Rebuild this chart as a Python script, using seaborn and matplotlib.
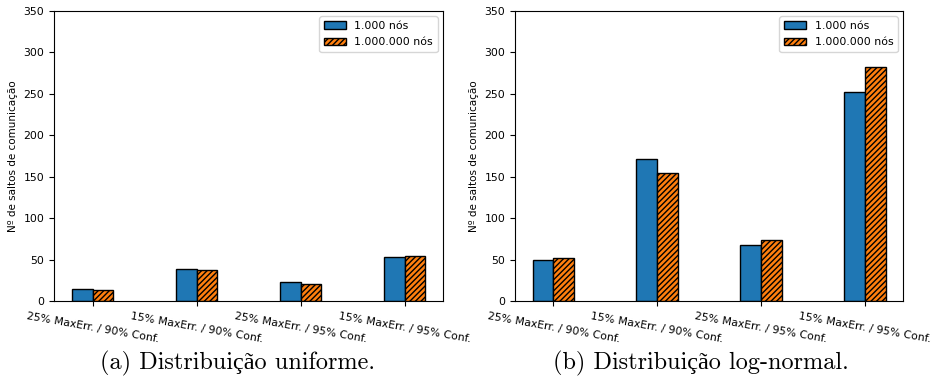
import matplotlib
matplotlib.use("Agg")
import matplotlib.pyplot as plt
from matplotlib.patches import Patch
import pandas as pd
import seaborn as sns

# configurações testadas
configs = ["25% MaxErr. / 90% Conf.", "15% MaxErr. / 90% Conf.",
           "25% MaxErr. / 95% Conf.", "15% MaxErr. / 95% Conf."]
series = ["1.000 nós", "1.000.000 nós"]

# nº de saltos - distribuição uniforme
uniform_1k = [15, 39, 23, 53]
uniform_1m = [13, 38, 20, 54]

# nº de saltos - distribuição log-normal
lognormal_1k = [49, 171, 68, 252]
lognormal_1m = [52, 155, 74, 282]

captions = ["(a) Distribuição uniforme.", "(b) Distribuição log-normal."]
colors = ["#1f77b4", "#ff7f0e"]
HATCH = "//////"


def make_df(a, b):
    return pd.DataFrame({
        "config": configs * 2,
        "serie": [series[0]] * 4 + [series[1]] * 4,
        "saltos": a + b,
    })


def draw(ax, df):
    sns.barplot(data=df, x="config", y="saltos", hue="serie",
                hue_order=series, order=configs, palette=colors,
                saturation=1, width=0.4, edgecolor="black", linewidth=1,
                legend=False, ax=ax)
    # hachura na segunda série
    for bar in ax.containers[1]:
        bar.set_hatch(HATCH)
    ax.set_xlim(-0.37, 3.37)
    ax.set_ylim(0, 350)
    ax.set_yticks(range(0, 351, 50))
    ax.set_xlabel("")
    ax.set_ylabel("Nº de saltos de comunicação", fontsize=7.5)
    ax.tick_params(axis="both", labelsize=7.8)
    plt.setp(ax.get_xticklabels(), rotation=-10, ha="center")
    handles = [Patch(facecolor=colors[0], edgecolor="black", label=series[0]),
               Patch(facecolor=colors[1], edgecolor="black", hatch=HATCH,
                     label=series[1])]
    ax.legend(handles=handles, loc="upper right", fontsize=7.9,
              labelspacing=0.6)


def main():
    plt.rcParams["hatch.linewidth"] = 1.0
    fig = plt.figure(figsize=(9.33, 3.9), dpi=100)
    ax1 = fig.add_axes([0.0579, 0.228, 0.417, 0.744])
    ax2 = fig.add_axes([0.552, 0.228, 0.416, 0.744])

    draw(ax1, make_df(uniform_1k, uniform_1m))
    draw(ax2, make_df(lognormal_1k, lognormal_1m))

    fig.text(0.255, 0.067, captions[0], ha="center", va="center",
             fontsize=17.5, family=["cmr10", "Liberation Serif"])
    fig.text(0.751, 0.067, captions[1], ha="center", va="center",
             fontsize=17.5, family=["cmr10", "Liberation Serif"])

    fig.savefig("out.png", dpi=100)


if __name__ == "__main__":
    main()
